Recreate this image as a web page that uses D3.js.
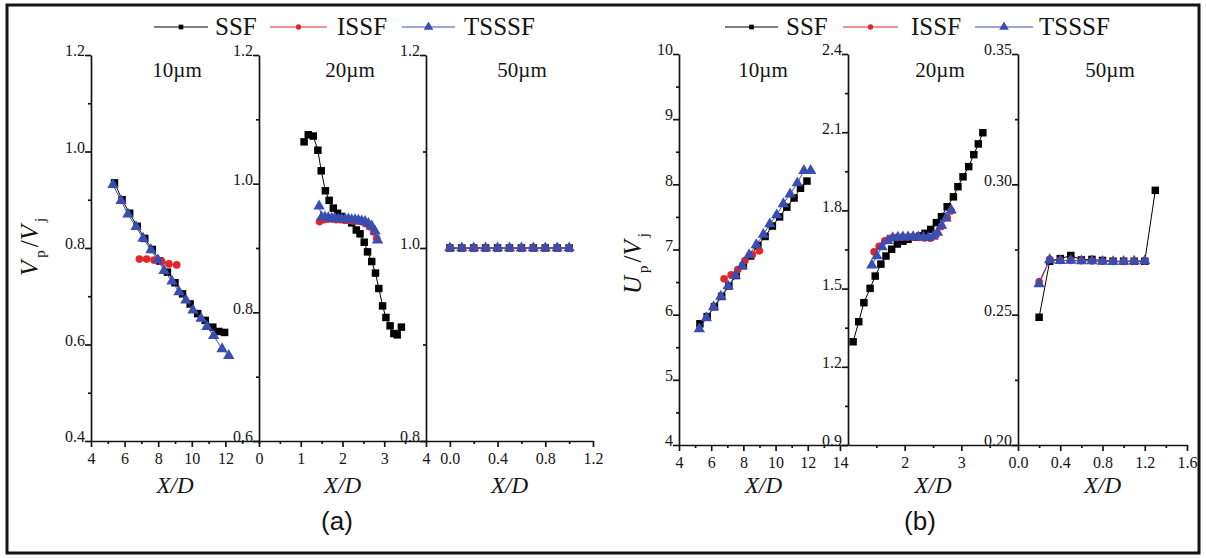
<!DOCTYPE html>
<html><head><meta charset="utf-8">
<script src="https://cdn.jsdelivr.net/npm/d3@7"></script>
<style>body{margin:0;background:#fff} svg{display:block} text{font-family:'Liberation Serif','Times New Roman',serif}</style>
</head><body>
<svg id="c" width="1206" height="558"></svg>
<script>
// ---------- DATA ----------
const seriesNames = ["SSF", "ISSF", "TSSSF"];
const sizeLabels = ["10µm", "20µm", "50µm"];
const panelLabels = ["(a)", "(b)"];

// Panel (a): Vp/Vj
const a10_SSF = [[5.4,0.935],[5.85,0.900],[6.3,0.872],[6.75,0.845],[7.2,0.820],[7.65,0.797],[8.1,0.773],[8.55,0.750],[9.0,0.728],[9.45,0.705],[9.9,0.684],[10.35,0.664],[10.8,0.650],[11.25,0.636],[11.6,0.627],[11.95,0.625]];
const a10_ISSF = [[6.88,0.777],[7.31,0.777],[7.75,0.775],[8.21,0.772],[8.64,0.767],[9.1,0.765]];
const a10_TSSSF = [[5.31,0.931],[5.79,0.898],[6.2,0.870],[6.68,0.844],[7.1,0.820],[7.57,0.796],[7.99,0.775],[8.35,0.753],[8.82,0.731],[9.24,0.709],[9.65,0.692],[10.07,0.671],[10.55,0.654],[10.9,0.637],[11.3,0.618],[11.8,0.591],[12.2,0.577]];

const a20_SSF = [[1.08,1.065],[1.18,1.076],[1.30,1.074],[1.41,1.052],[1.49,1.020],[1.59,0.989],[1.68,0.974],[1.78,0.962],[1.88,0.954],[1.98,0.949],[2.1,0.944],[2.22,0.939],[2.33,0.928],[2.42,0.922],[2.52,0.909],[2.60,0.894],[2.70,0.879],[2.79,0.861],[2.87,0.837],[2.96,0.810],[3.04,0.792],[3.14,0.779],[3.23,0.767],[3.31,0.765],[3.41,0.777]];
const a20_ISSF = [[1.45,0.941],[1.55,0.944],[1.65,0.945],[1.75,0.945],[1.85,0.944],[1.95,0.944],[2.05,0.943],[2.15,0.943],[2.25,0.942],[2.35,0.942],[2.45,0.941],[2.55,0.938],[2.65,0.933],[2.75,0.925],[2.82,0.915]];
const a20_TSSSF = [[1.44,0.965],[1.50,0.948],[1.58,0.948],[1.66,0.947],[1.74,0.946],[1.82,0.946],[1.90,0.945],[1.98,0.945],[2.06,0.945],[2.14,0.945],[2.22,0.944],[2.30,0.944],[2.38,0.943],[2.46,0.942],[2.54,0.941],[2.62,0.938],[2.70,0.934],[2.78,0.926],[2.84,0.912]];

const a50_SSF = [[0,1.0],[0.1,1.0],[0.2,1.0],[0.3,1.0],[0.4,1.0],[0.5,1.0],[0.6,1.0],[0.7,1.0],[0.8,1.0],[0.9,1.0],[1.0,1.0]];
const a50_ISSF = [[0,1.0],[0.1,1.0],[0.2,1.0],[0.3,1.0],[0.4,1.0],[0.5,1.0],[0.6,1.0],[0.7,1.0],[0.8,1.0],[0.9,1.0],[1.0,1.0]];
const a50_TSSSF = [[0,1.0],[0.1,1.0],[0.2,1.0],[0.3,1.0],[0.4,1.0],[0.5,1.0],[0.6,1.0],[0.7,1.0],[0.8,1.0],[0.9,1.0],[1.0,1.0]];

// Panel (b): Up/Vj
const b10_SSF = [[5.3,5.86],[5.75,5.97],[6.2,6.12],[6.65,6.28],[7.1,6.44],[7.55,6.60],[8.0,6.75],[8.45,6.90],[8.9,7.06],[9.35,7.20],[9.8,7.36],[10.25,7.50],[10.7,7.65],[11.15,7.79],[11.55,7.94],[11.95,8.05]];
const b10_ISSF = [[6.80,6.55],[7.24,6.61],[7.65,6.69],[8.10,6.83],[8.56,6.92],[8.99,6.98]];
const b10_TSSSF = [[5.26,5.78],[5.70,5.95],[6.15,6.12],[6.60,6.28],[7.05,6.44],[7.50,6.60],[7.92,6.75],[8.36,6.92],[8.80,7.07],[9.24,7.23],[9.64,7.39],[10.07,7.53],[10.48,7.70],[10.90,7.85],[11.35,8.02],[11.76,8.21],[12.18,8.21]];

const b20_SSF = [[1.09,1.296],[1.19,1.373],[1.28,1.446],[1.39,1.501],[1.48,1.548],[1.58,1.594],[1.67,1.625],[1.77,1.651],[1.87,1.671],[1.97,1.682],[2.06,1.689],[2.16,1.697],[2.27,1.702],[2.36,1.712],[2.46,1.727],[2.56,1.753],[2.65,1.776],[2.75,1.814],[2.86,1.852],[2.94,1.891],[3.03,1.929],[3.13,1.968],[3.22,2.014],[3.30,2.055],[3.38,2.098]];
const b20_ISSF = [[1.46,1.641],[1.55,1.662],[1.65,1.683],[1.75,1.693],[1.85,1.696],[1.95,1.697],[2.05,1.697],[2.15,1.697],[2.25,1.696],[2.35,1.694],[2.45,1.693],[2.55,1.705],[2.65,1.738],[2.75,1.772],[2.82,1.798]];
const b20_TSSSF = [[1.42,1.590],[1.51,1.625],[1.60,1.660],[1.70,1.684],[1.79,1.695],[1.88,1.697],[1.97,1.698],[2.06,1.698],[2.15,1.699],[2.24,1.698],[2.33,1.697],[2.42,1.695],[2.50,1.700],[2.58,1.715],[2.65,1.742],[2.73,1.770],[2.82,1.801]];

const b50_SSF = [[0.2,0.249],[0.3,0.2705],[0.4,0.2715],[0.5,0.2727],[0.6,0.2710],[0.7,0.2712],[0.8,0.2708],[0.9,0.2705],[1.0,0.2705],[1.1,0.2705],[1.2,0.2705],[1.3,0.2977]];
const b50_ISSF = [[0.2,0.2626],[0.3,0.2712],[0.4,0.2708],[0.5,0.2708],[0.6,0.2707],[0.7,0.2706],[0.8,0.2705],[0.9,0.2704],[1.0,0.2704],[1.1,0.2705],[1.2,0.2706]];
const b50_TSSSF = [[0.2,0.2618],[0.3,0.2710],[0.4,0.2707],[0.5,0.2708],[0.6,0.2706],[0.7,0.2706],[0.8,0.2704],[0.9,0.2703],[1.0,0.2704],[1.1,0.2705],[1.2,0.2706]];

// Tick values
const a10_xTicks = [4,6,8,10,12],  a10_xMinor = [5,7,9,11,13,14];
const a10_yTicks = [0.4,0.6,0.8,1.0,1.2], a10_yMinor = [0.5,0.7,0.9,1.1];
const a20_xTicks = [0,1,2,3,4], a20_xMinor = [0.5,1.5,2.5,3.5];
const a20_yTicks = [0.6,0.8,1.0,1.2], a20_yMinor = [0.7,0.9,1.1];
const a50_xTicks = [0.0,0.4,0.8,1.2], a50_xMinor = [0.2,0.6,1.0];
const a50_yTicks = [0.8,1.0,1.2], a50_yMinor = [0.9,1.1];
const b10_xTicks = [4,6,8,10,12,14], b10_xMinor = [5,7,9,11,13];
const b10_yTicks = [4,5,6,7,8,9,10], b10_yMinor = [4.5,5.5,6.5,7.5,8.5,9.5];
const b20_xTicks = [2,3], b20_xMinor = [1.5,2.5,3.5];
const b20_yTicks = [0.9,1.2,1.5,1.8,2.1,2.4], b20_yMinor = [1.05,1.35,1.65,1.95,2.25];
const b50_xTicks = [0.0,0.4,0.8,1.2,1.6], b50_xMinor = [0.2,0.6,1.0,1.4];
const b50_yTicks = [0.20,0.25,0.30,0.35], b50_yMinor = [0.225,0.275,0.325];

// ---------- STYLE / LAYOUT ----------
const colors = {SSF:"#000000", ISSF:"#e3242b", TSSSF:"#3a4db0"};
const serif = "Liberation Serif";
const ink = "#141414";
const svg = d3.select("#c");

svg.append("rect").attr("x",7).attr("y",5).attr("width",1192).attr("height",548)
  .attr("fill","none").attr("stroke",ink).attr("stroke-width",3);

const subplots = [
  {x0:91, x1:259, top:55, bottom:441, xd:[4,14], yd:[0.4,1.2], xt:a10_xTicks, xm:a10_xMinor, yt:a10_yTicks, ym:a10_yMinor, xf:d3.format("d"), yf:d3.format(".1f"), data:[a10_SSF,a10_ISSF,a10_TSSSF], title:sizeLabels[0], tx:177},
  {x0:259, x1:426, top:55, bottom:441, xd:[0,4], yd:[0.6,1.2], xt:a20_xTicks, xm:a20_xMinor, yt:a20_yTicks, ym:a20_yMinor, xf:d3.format("d"), yf:d3.format(".1f"), data:[a20_SSF,a20_ISSF,a20_TSSSF], title:sizeLabels[1], tx:350},
  {x0:426, x1:593, top:55, bottom:441, xd:[-0.2,1.2], yd:[0.8,1.2], xt:a50_xTicks, xm:a50_xMinor, yt:a50_yTicks, ym:a50_yMinor, xf:d3.format(".1f"), yf:d3.format(".1f"), data:[a50_SSF,a50_ISSF,a50_TSSSF], title:sizeLabels[2], tx:522},
  {x0:679, x1:848, top:54, bottom:445, xd:[4,14.5], yd:[4,10], xt:b10_xTicks, xm:b10_xMinor, yt:b10_yTicks, ym:b10_yMinor, xf:d3.format("d"), yf:d3.format("d"), data:[b10_SSF,b10_ISSF,b10_TSSSF], title:sizeLabels[0], tx:763},
  {x0:848, x1:1018, top:54, bottom:445, xd:[1,4], yd:[0.9,2.4], xt:b20_xTicks, xm:b20_xMinor, yt:b20_yTicks, ym:b20_yMinor, xf:d3.format("d"), yf:d3.format(".1f"), data:[b20_SSF,b20_ISSF,b20_TSSSF], title:sizeLabels[1], tx:940},
  {x0:1018, x1:1187, top:54, bottom:445, xd:[0,1.6], yd:[0.20,0.35], xt:b50_xTicks, xm:b50_xMinor, yt:b50_yTicks, ym:b50_yMinor, xf:d3.format(".1f"), yf:d3.format(".2f"), data:[b50_SSF,b50_ISSF,b50_TSSSF], title:sizeLabels[2], tx:1110}
];

const symSquare = d3.symbol().type(d3.symbolSquare).size(56)();
const symCircle = d3.symbol().type(d3.symbolCircle).size(46)();
const symTri = d3.symbol().type(d3.symbolTriangle).size(56)();
const syms = [symSquare, symCircle, symTri];

subplots.forEach(sp => {
  const x = d3.scaleLinear().domain(sp.xd).range([sp.x0, sp.x1]);
  const y = d3.scaleLinear().domain(sp.yd).range([sp.bottom, sp.top]);
  const g = svg.append("g");

  sp.data.forEach((ser, i) => {
    const c = colors[seriesNames[i]];
    const line = d3.line().x(d => x(d[0])).y(d => y(d[1]));
    g.append("path").datum(ser).attr("d", line).attr("fill","none")
      .attr("stroke", c).attr("stroke-width", 1);
    g.selectAll(null).data(ser).enter().append("path")
      .attr("d", syms[i])
      .attr("transform", d => `translate(${x(d[0])},${y(d[1])})`)
      .attr("fill", c);
  });

  const ax = g.append("g").attr("transform", `translate(0,${sp.bottom})`)
    .call(d3.axisBottom(x).tickValues(sp.xt).tickFormat(sp.xf).tickSize(6).tickSizeOuter(0));
  ax.attr("font-family", serif).attr("font-size", 16);
  ax.selectAll("text").attr("y", 12).attr("fill", ink);
  const axm = g.append("g").attr("transform", `translate(0,${sp.bottom})`)
    .call(d3.axisBottom(x).tickValues(sp.xm).tickFormat("").tickSize(3).tickSizeOuter(0));
  axm.select(".domain").remove();

  const ay = g.append("g").attr("transform", `translate(${sp.x0},0)`)
    .call(d3.axisLeft(y).tickValues(sp.yt).tickFormat(sp.yf).tickSize(6).tickSizeOuter(0));
  ay.attr("font-family", serif).attr("font-size", 16);
  ay.selectAll("text").attr("x", -6).attr("dy", "0.05em").attr("fill", ink);
  const aym = g.append("g").attr("transform", `translate(${sp.x0},0)`)
    .call(d3.axisLeft(y).tickValues(sp.ym).tickFormat("").tickSize(3).tickSizeOuter(0));
  aym.select(".domain").remove();

  g.selectAll(".domain, .tick line").attr("stroke", ink).attr("stroke-width", 1.7);

  svg.append("text").attr("x", sp.tx).attr("y", 77).attr("text-anchor","middle")
    .attr("font-family", serif).attr("font-size", 21).attr("fill", ink).text(sp.title);
  svg.append("text").attr("x", (sp.x0+sp.x1)/2).attr("y", 493).attr("text-anchor","middle")
    .attr("font-family", serif).attr("font-size", 23).attr("font-style","italic").attr("fill", ink).text("X/D");
});

// Y labels (rotated, reading bottom to top, starting at the given y)
function yLabel(cx, startY, first) {
  const t = svg.append("text").attr("transform", `translate(${cx},${startY}) rotate(-90)`)
    .attr("text-anchor","start").attr("font-family", serif).attr("font-size", 25).attr("fill", ink);
  t.append("tspan").attr("font-style","italic").text(first);
  t.append("tspan").attr("font-size",15).attr("dy",7).attr("dx",3).text("p");
  t.append("tspan").attr("dy",-7).attr("dx",3).text("/");
  t.append("tspan").attr("font-style","italic").text("V");
  t.append("tspan").attr("font-size",15).attr("dy",7).attr("dx",3).text("j");
}
yLabel(38, 276, "V");
yLabel(641, 294, "U");

// Legends
function legend(items) {
  items.forEach((it, i) => {
    const c = colors[seriesNames[i]];
    svg.append("line").attr("x1", it.l1).attr("x2", it.l2).attr("y1", 27).attr("y2", 27)
      .attr("stroke", c).attr("stroke-width", 1.2);
    svg.append("path").attr("d", d3.symbol().type([d3.symbolSquare,d3.symbolCircle,d3.symbolTriangle][i]).size(i===2?40:22)())
      .attr("transform", `translate(${(it.l1+it.l2)/2},27)`).attr("fill", c);
    svg.append("text").attr("x", it.tx).attr("y", 35).attr("font-family", serif).attr("font-size", 25)
      .attr("fill", ink).text(seriesNames[i]);
  });
}
legend([{l1:154,l2:208,tx:215},{l1:270,l2:327,tx:337},{l1:402,l2:455,tx:464}]);
legend([{l1:725,l2:778,tx:786},{l1:843,l2:898,tx:911},{l1:975,l2:1033,tx:1039}]);

// Panel labels
svg.append("text").attr("x", 337).attr("y", 530).attr("text-anchor","middle")
  .style("font-family","'Liberation Sans',Arial,sans-serif").attr("font-size", 26).attr("fill", ink).text(panelLabels[0]);
svg.append("text").attr("x", 920).attr("y", 530).attr("text-anchor","middle")
  .style("font-family","'Liberation Sans',Arial,sans-serif").attr("font-size", 26).attr("fill", ink).text(panelLabels[1]);
</script>
</body></html>
